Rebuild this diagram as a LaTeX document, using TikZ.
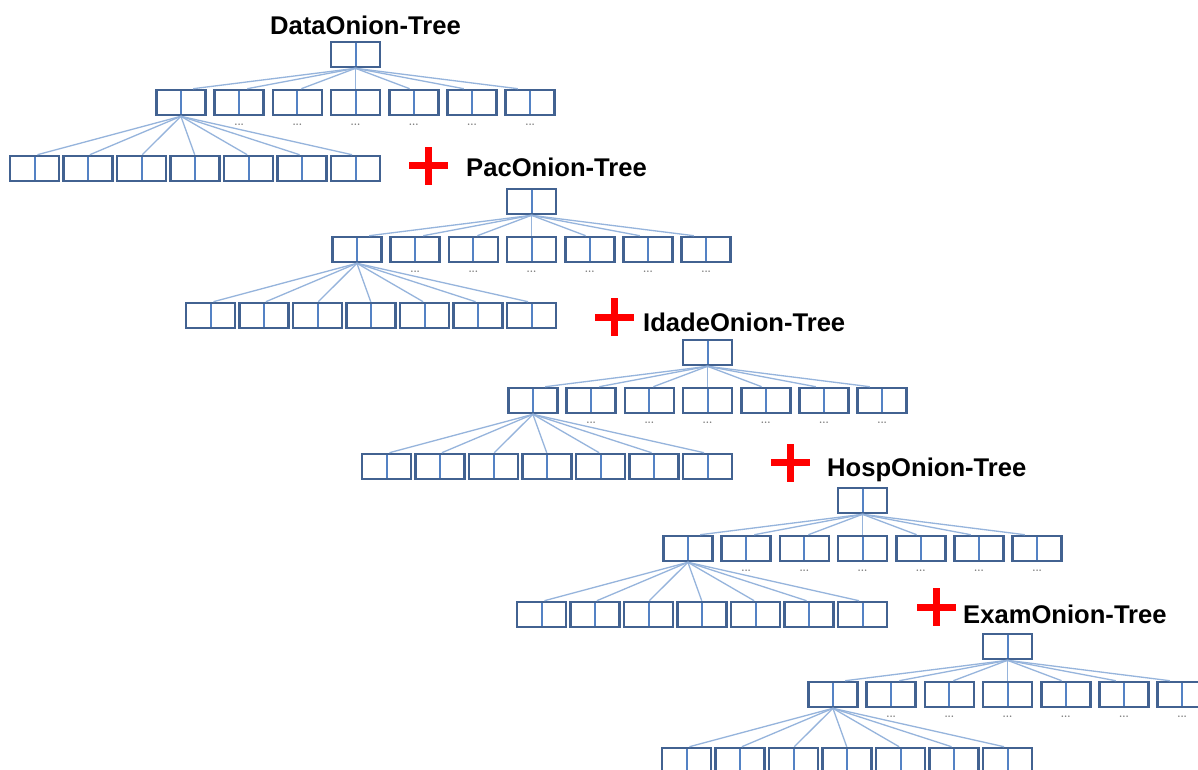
\documentclass[tikz,border=0pt]{standalone}
\usepackage{fontspec}
\newfontfamily\titlefont{Liberation Sans}
\usetikzlibrary{calc}
\definecolor{boxblue}{RGB}{66,98,145}
\definecolor{divblue}{RGB}{84,130,196}
\definecolor{linkblue}{RGB}{150,180,220}
\definecolor{dotgray}{RGB}{120,120,120}
\definecolor{plusred}{RGB}{255,0,0}
\tikzset{
  tbox/.style={draw=boxblue, line width=2.6pt, minimum width=49pt, minimum height=25pt,
    inner sep=0pt, fill=white,
    path picture={\draw[divblue, line width=2pt] (path picture bounding box.north) -- (path picture bounding box.south);}},
  conn/.style={draw=linkblue, line width=1.3pt},
  ttitle/.style={font=\titlefont\bfseries\fontsize{25.6}{30}\selectfont, inner sep=0pt, anchor=base west},
  dots/.style={font=\bfseries\fontsize{10}{10}\selectfont, text=dotgray, inner sep=0pt, anchor=base}
}
% #1 id, #2 root left x, #3 root top y, #4 title, #5 title left x, #6 title baseline y
\newcommand\onionTree[6]{%
  \node[ttitle] (#1t) at (#5,#6) {#4};
  \foreach \i in {0,...,6}{
    \node[tbox] (#1a\i) at ({#2+24.5+(\i-3)*58.2},{#3+48+12.5}) {};
  }
  \foreach \j in {0,...,6}{
    \node[tbox] (#1b\j) at ({#2-321+24.5+\j*53.5},{#3+114+12.5}) {};
  }
  \node[tbox] (#1r) at ({#2+24.5},{#3+12.5}) {};
  \foreach \i in {0,...,6}{
    \draw[conn] (#1r.south) -- ($(#1a\i.north)!0.07!(#1a\i.north -| #1r.south)$);
  }
  \foreach \j in {0,...,6}{
    \draw[conn] (#1a0.south) -- ($(#1b\j.north)!0.02!(#1b\j.north -| #1a0.south)$);
  }
  \foreach \i in {1,...,6}{
    \node[dots] (#1d\i) at ($(#1a\i.south)+(0,9)$) {...};
  }
}
\newcommand\plusSign[3]{%
  \coordinate (#1) at (#2,#3);
  \fill[plusred] ($(#1)+(-19.5,-3.5)$) rectangle ($(#1)+(19.5,3.5)$);
  \fill[plusred] ($(#1)+(-3.5,-19)$) rectangle ($(#1)+(3.5,19)$);
}
\begin{document}
\begin{tikzpicture}[x=1pt,y=-1pt]
  \useasboundingbox (0,0) rectangle (1198,769);
  \clip (0,0) rectangle (1198,769);
  \fill[white] (0,0) rectangle (1198,769);
  \onionTree{ta}{331}{42}{DataOnion-Tree}{270}{34.5}
  \onionTree{tb}{507}{189}{PacOnion-Tree}{466}{176}
  \onionTree{tc}{683}{340}{IdadeOnion-Tree}{643}{331}
  \onionTree{td}{838}{488}{HospOnion-Tree}{827}{476}
  \onionTree{te}{983}{634}{ExamOnion-Tree}{963}{623}
  \plusSign{p1}{428}{165.5}
  \plusSign{p2}{614}{317}
  \plusSign{p3}{790}{462.5}
  \plusSign{p4}{936}{607}
\end{tikzpicture}
\end{document}
